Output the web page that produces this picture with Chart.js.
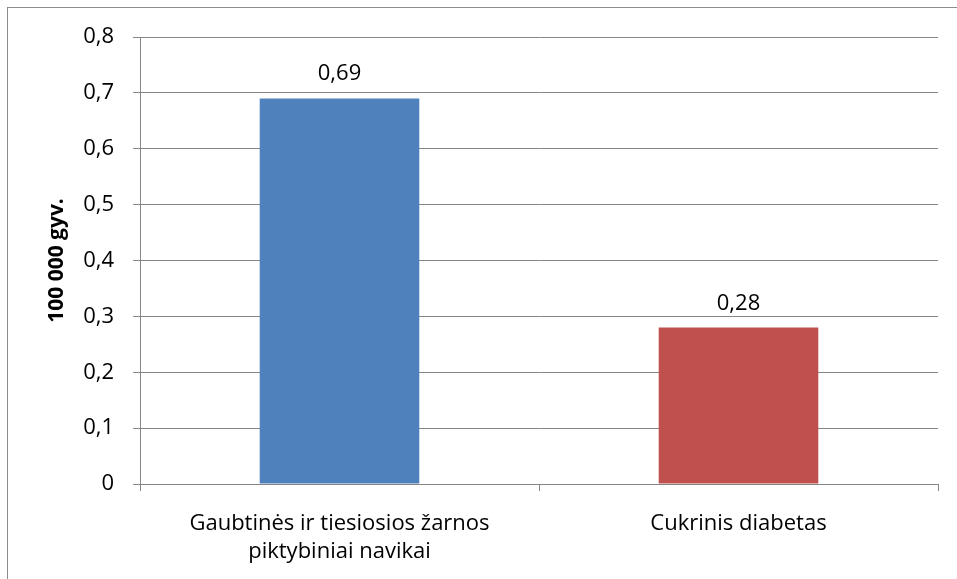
<!DOCTYPE html>
<html>
<head>
<meta charset="utf-8">
<script src="https://cdn.jsdelivr.net/npm/chart.js@4"></script>
<style>
  html, body { margin: 0; padding: 0; background: #fff; }
  #wrap { width: 957px; height: 579px; position: relative; }
</style>
</head>
<body>
<div id="wrap"><canvas id="chart" width="957" height="579"></canvas></div>
<script>
// Chart data
const categories = [['Gaubtinės ir tiesiosios žarnos', 'piktybiniai navikai'], 'Cukrinis diabetas'];
const values = [0.69, 0.28];
const barColors = ['#4F81BD', '#C0504D'];
const yTitle = '100 000 gyv.';

const FONT = '"Open Sans", sans-serif';
const GRID = '#868686';

const fmt = v => String(v).replace('.', ',');

// Outer frame + value labels
const extras = {
    id: 'extras',
    beforeDraw(chart) {
        const c = chart.ctx;
        c.save();
        c.fillStyle = '#fff';
        c.fillRect(0, 0, chart.width, chart.height);
        c.strokeStyle = '#8c8c8c';
        c.lineWidth = 1;
        c.strokeRect(7.5, 7.5, chart.width + 10, chart.height + 10);
        c.restore();
    },
    afterDatasetsDraw(chart) {
        const c = chart.ctx;
        const meta = chart.getDatasetMeta(0);
        c.save();
        c.font = '22px ' + FONT;
        c.fillStyle = '#000';
        c.textAlign = 'center';
        c.textBaseline = 'alphabetic';
        meta.data.forEach((bar, i) => {
            c.fillText(fmt(values[i]), bar.x, bar.y - 18);
        });
        c.restore();
    }
};

const ctx = document.getElementById('chart').getContext('2d');
new Chart(ctx, {
    type: 'bar',
    data: {
        labels: categories,
        datasets: [{
            data: values,
            backgroundColor: barColors,
            borderWidth: 0,
            barPercentage: 0.8,
            categoryPercentage: 0.5
        }]
    },
    options: {
        responsive: false,
        animation: false,
        layout: { padding: { top: 37, right: 19, left: 0, bottom: 0 } },
        plugins: {
            legend: { display: false },
            tooltip: { enabled: false }
        },
        scales: {
            x: {
                grid: { drawOnChartArea: false, color: GRID, tickLength: 7, offset: true },
                border: { color: GRID },
                ticks: {
                    color: '#000',
                    font: { family: FONT, size: 22, lineHeight: 1.3 },
                    padding: 18,
                    maxRotation: 0,
                    autoSkip: false
                },
                afterFit(scale) { scale.height = 95; }
            },
            y: {
                min: 0,
                max: 0.8,
                grid: { color: GRID, tickLength: 7 },
                border: { color: GRID },
                ticks: {
                    stepSize: 0.1,
                    color: '#000',
                    font: { family: FONT, size: 22 },
                    padding: 19,
                    callback: v => fmt(Math.round(v * 10) / 10)
                },
                title: {
                    display: true,
                    text: yTitle,
                    color: '#000',
                    font: { family: FONT, size: 21, weight: 'bold' },
                    padding: { top: 44, bottom: 0 }
                },
                afterFit(scale) { scale.width = 140; }
            }
        }
    },
    plugins: [extras]
});
</script>
</body>
</html>
